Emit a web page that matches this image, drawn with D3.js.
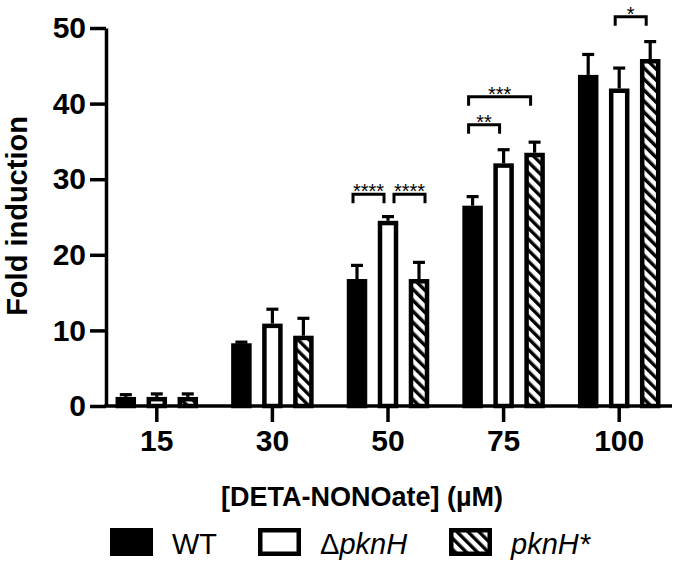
<!DOCTYPE html>
<html>
<head>
<meta charset="utf-8">
<script src="https://cdn.jsdelivr.net/npm/d3@7"></script>
<style>
  body { margin: 0; background: #fff; }
  svg text { font-family: Arial, "Liberation Sans", sans-serif; fill: #000; }
</style>
</head>
<body>
<div class="svgContainer"></div>
<script>
// data
const CONCENTRATIONS = ['15', '30', '50', '75', '100'];
const SERIES = ['WT', 'dpknH', 'pknHstar'];
const WT_MEAN = [0.9, 8.0, 16.5, 26.2, 43.5];
const WT_SD = [0.6, 0.45, 2.1, 1.5, 3.0];
const DPKNH_MEAN = [0.9, 10.6, 24.2, 31.8, 41.7];
const DPKNH_SD = [0.7, 2.2, 0.85, 2.1, 3.0];
const PKNHSTAR_MEAN = [0.9, 9.0, 16.5, 33.2, 45.6];
const PKNHSTAR_SD = [0.7, 2.6, 2.5, 1.7, 2.6];
const Y_TICKS = [0, 10, 20, 30, 40, 50];
// significance: group, from series, to series, bracket height (fold), label
const SIG_GROUP = ['50', '50', '75', '75', '100'];
const SIG_FROM = ['WT', 'dpknH', 'WT', 'WT', 'dpknH'];
const SIG_TO = ['dpknH', 'pknHstar', 'dpknH', 'pknHstar', 'pknHstar'];
const SIG_LEVEL = [28.0, 28.0, 37.2, 40.9, 51.5];
const SIG_LABEL = ['****', '****', '**', '***', '*'];

const WIDTH = 676, HEIGHT = 564;
const AXIS_X = 106, AXIS_END = 672;
const STROKE = 4.5;
const BAR_W = 16;

const means = {WT: WT_MEAN, dpknH: DPKNH_MEAN, pknHstar: PKNHSTAR_MEAN};
const sds = {WT: WT_SD, dpknH: DPKNH_SD, pknHstar: PKNHSTAR_SD};

const rows = [];
CONCENTRATIONS.forEach((c, i) => {
    SERIES.forEach(s => rows.push({conc: c, series: s, mean: means[s][i], sd: sds[s][i]}));
});

const svg = d3.select('.svgContainer')
    .append('svg')
    .attr('width', WIDTH)
    .attr('height', HEIGHT);

// hatch pattern for pknH*
svg.append('defs')
    .append('pattern')
    .attr('id', 'hatch')
    .attr('patternUnits', 'userSpaceOnUse')
    .attr('width', 7.8)
    .attr('height', 7.8)
    .attr('patternTransform', 'rotate(-45)')
    .call(p => {
        p.append('rect').attr('width', 7.8).attr('height', 7.8).attr('fill', '#fff');
        p.append('rect').attr('width', 3.4).attr('height', 7.8).attr('fill', '#000');
    });

const fills = {WT: '#000', dpknH: '#fff', pknHstar: 'url(#hatch)'};

const x0 = d3.scaleBand()
    .domain(CONCENTRATIONS)
    .range([99, 677]);

const x1 = d3.scalePoint()
    .domain(SERIES)
    .range([-31, 31]);

const y = d3.scaleLinear()
    .domain([0, 50])
    .range([406, 28]);

const cx = d => x0(d.conc) + x0.bandwidth() / 2 + x1(d.series);

// bars
svg.append('g')
    .selectAll('rect')
    .data(rows)
    .enter()
    .append('rect')
    .attr('x', d => cx(d) - BAR_W / 2)
    .attr('y', d => y(d.mean))
    .attr('width', BAR_W)
    .attr('height', d => y(0) - y(d.mean))
    .attr('fill', d => fills[d.series])
    .attr('stroke', '#000')
    .attr('stroke-width', STROKE);

// error bars (upper only)
const err = svg.append('g')
    .attr('stroke', '#000')
    .attr('stroke-width', 3.2);

err.selectAll('line.v')
    .data(rows)
    .enter()
    .append('line')
    .attr('class', 'v')
    .attr('x1', cx)
    .attr('x2', cx)
    .attr('y1', d => y(d.mean) - STROKE / 2)
    .attr('y2', d => y(d.mean + d.sd));

err.selectAll('line.cap')
    .data(rows)
    .enter()
    .append('line')
    .attr('class', 'cap')
    .attr('x1', d => cx(d) - 6)
    .attr('x2', d => cx(d) + 6)
    .attr('y1', d => y(d.mean + d.sd))
    .attr('y2', d => y(d.mean + d.sd));

// y axis
const yAxis = svg.append('g')
    .attr('transform', `translate(${AXIS_X},0)`)
    .call(d3.axisLeft(y).tickValues(Y_TICKS).tickSize(16).tickPadding(4).tickSizeOuter(0));
yAxis.select('.domain').attr('stroke-width', 3.5);
yAxis.selectAll('.tick line').attr('stroke-width', 3.5);
yAxis.selectAll('.tick text')
    .style('font-size', '30px')
    .style('font-weight', 'bold');

// x axis
const xAxis = svg.append('g')
    .attr('transform', `translate(0,${y(0)})`)
    .call(d3.axisBottom(x0).tickSize(16).tickPadding(8).tickSizeOuter(0));
xAxis.select('.domain').remove();
xAxis.append('line')
    .attr('x1', AXIS_X - 1.75)
    .attr('x2', AXIS_END)
    .attr('stroke', '#000')
    .attr('stroke-width', 3.5);
xAxis.selectAll('.tick line').attr('stroke-width', 3.5);
xAxis.selectAll('.tick text')
    .style('font-size', '30px')
    .style('font-weight', 'bold');

// axis titles
svg.append('text')
    .attr('x', 362)
    .attr('y', 506)
    .attr('text-anchor', 'middle')
    .style('font-size', '27px')
    .style('font-weight', 'bold')
    .text('[DETA-NONOate] (µM)');

svg.append('text')
    .attr('transform', 'translate(27,216) rotate(-90)')
    .attr('text-anchor', 'middle')
    .style('font-size', '29px')
    .style('font-weight', 'bold')
    .text('Fold induction');

// significance brackets
const sig = SIG_GROUP.map((g, i) => ({group: g, from: SIG_FROM[i], to: SIG_TO[i], level: SIG_LEVEL[i], label: SIG_LABEL[i]}));
sig.forEach((d, i) => {
    // second bracket on the same level sits a little to the right
    const shift = sig.some((o, j) => j < i && o.group === d.group && o.level === d.level) ? 10 : 0;
    const xa = x0(d.group) + x0.bandwidth() / 2 + x1(d.from) - 4 + shift;
    const xb = x0(d.group) + x0.bandwidth() / 2 + x1(d.to) - 4 + shift;
    const yy = y(d.level);
    svg.append('path')
        .attr('d', `M${xa},${yy + 9}V${yy}H${xb}V${yy + 9}`)
        .attr('fill', 'none')
        .attr('stroke', '#000')
        .attr('stroke-width', 3);
    svg.append('text')
        .attr('x', (xa + xb) / 2)
        .attr('y', yy + 4)
        .attr('text-anchor', 'middle')
        .style('font-size', '20px')
        .text(d.label);
});

// legend
const LEGEND_X = [110, 258, 449];
const legend = svg.append('g').attr('id', 'legend');
SERIES.forEach((s, i) => {
    legend.append('rect')
        .attr('x', LEGEND_X[i] + STROKE / 2)
        .attr('y', 528 + STROKE / 2)
        .attr('width', 43 - STROKE)
        .attr('height', 28 - STROKE)
        .attr('fill', fills[s])
        .attr('stroke', '#000')
        .attr('stroke-width', STROKE);
    const t = legend.append('text')
        .attr('x', LEGEND_X[i] + 62)
        .attr('y', 554)
        .style('font-size', '29px');
    if (s === 'WT') {
        t.text('WT');
    } else if (s === 'dpknH') {
        t.append('tspan').text('Δ');
        t.append('tspan').style('font-style', 'italic').text('pknH');
    } else {
        t.append('tspan').style('font-style', 'italic').text('pknH*');
    }
});
</script>
</body>
</html>
